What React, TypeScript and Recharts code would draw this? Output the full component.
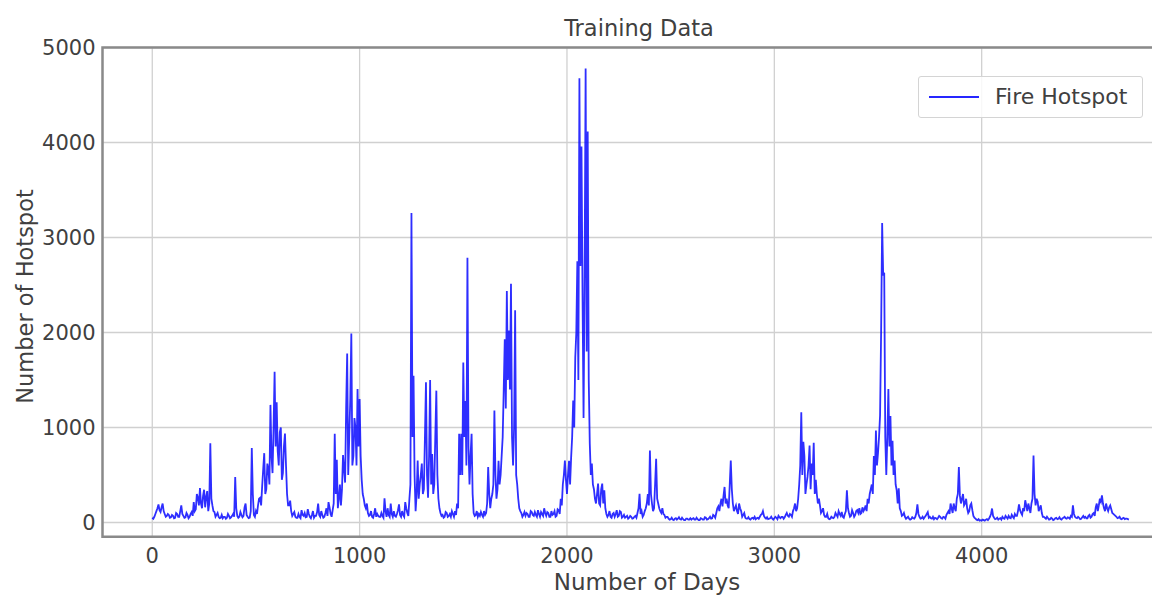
import React from 'react';
import { LineChart, Line, XAxis, YAxis, CartesianGrid, ReferenceArea, Legend } from 'recharts';

// ---- data ----
// hotspots: values at days 0, 10, 20, ...
const DAY_STEP = 10;
const hotspots: number[] = [
  // 0
  50, 60, 120, 190, 110, 200, 90, 70, 80, 55,
  // 100
  70, 50, 90, 60, 180, 70, 55, 80, 60, 110,
  // 200
  215, 140, 260, 363, 150, 345, 270, 120, 835, 180,
  // 300
  110, 80, 60, 50, 45, 60, 50, 70, 55, 90,
  // 400
  478, 70, 60, 80, 70, 200, 60, 50, 783, 80,
  // 500
  120, 180, 260, 380, 730, 350, 560, 1238, 520, 1587,
  // 600
  1265, 600, 1000, 520, 937, 300, 180, 120, 90, 60,
  // 700
  50, 60, 130, 70, 55, 140, 60, 80, 50, 70,
  // 800
  200, 60, 80, 60, 150, 215, 90, 130, 933, 660,
  // 900
  250, 180, 710, 420, 1780, 900, 1990, 700, 1000, 1405,
  // 1000
  1300, 450, 250, 150, 100, 80, 60, 90, 60, 70,
  // 1100
  60, 70, 255, 60, 80, 200, 60, 70, 90, 190,
  // 1200
  60, 80, 215, 100, 245, 3258, 1545, 120, 653, 400,
  // 1300
  620, 350, 1475, 260, 1500, 720, 400, 1388, 250, 100,
  // 1400
  80, 60, 100, 70, 60, 90, 120, 200, 933, 933,
  // 1500
  1685, 1280, 2786, 400, 933, 100, 80, 60, 70, 80,
  // 1600
  120, 100, 583, 150, 300, 1178, 250, 650, 500, 900,
  // 1700
  1930, 2437, 2020, 2514, 600, 2234, 400, 150, 100, 80,
  // 1800
  70, 90, 60, 110, 70, 80, 130, 60, 90, 150,
  // 1900
  70, 100, 60, 80, 120, 70, 130, 250, 400, 653,
  // 2000
  300, 650, 680, 1283, 1737, 2751, 4675, 3958, 1100, 4780,
  // 2100
  4115, 830, 620, 350, 200, 410, 180, 410, 340, 90,
  // 2200
  80, 60, 90, 60, 130, 70, 110, 60, 50, 70,
  // 2300
  50, 60, 45, 70, 100, 303, 120, 80, 150, 300,
  // 2400
  758, 200, 150, 671, 200, 120, 150, 80, 60, 40,
  // 2500
  35, 30, 40, 30, 55, 30, 35, 25, 40, 30,
  // 2600
  30, 45, 30, 35, 25, 40, 30, 50, 35, 60,
  // 2700
  45, 70, 100, 170, 200, 170, 374, 250, 150, 653,
  // 2800
  200, 150, 120, 200, 120, 80, 50, 40, 35, 45,
  // 2900
  40, 35, 50, 60, 90, 70, 40, 35, 45, 40,
  // 3000
  45, 50, 70, 45, 60, 55, 100, 60, 80, 120,
  // 3100
  200, 150, 400, 1160, 850, 300, 480, 810, 620, 840,
  // 3200
  450, 200, 180, 120, 80, 60, 45, 40, 50, 60,
  // 3300
  80, 120, 70, 60, 90, 340, 100, 70, 100, 80,
  // 3400
  130, 150, 100, 120, 180, 250, 300, 400, 700, 968,
  // 3500
  730, 1130, 3153, 2630, 500, 1405, 1120, 860, 653, 340,
  // 3600
  360, 120, 80, 60, 50, 40, 35, 45, 60, 192,
  // 3700
  60, 45, 40, 70, 110, 60, 40, 35, 45, 50,
  // 3800
  60, 40, 55, 80, 120, 200, 100, 150, 250, 583,
  // 3900
  200, 300, 200, 150, 120, 200, 70, 40, 25, 20,
  // 4000
  20, 25, 30, 25, 60, 147, 50, 40, 30, 45,
  // 4100
  60, 40, 55, 70, 45, 60, 90, 70, 190, 100,
  // 4200
  150, 234, 120, 150, 200, 706, 180, 220, 150, 100,
  // 4300
  60, 40, 45, 35, 40, 30, 50, 40, 35, 45,
  // 4400
  60, 40, 50, 70, 181, 60, 45, 50, 40, 70,
  // 4500
  60, 45, 80, 60, 100, 160, 120, 250, 286, 150,
  // 4600
  200, 120, 180, 100, 80, 60, 50, 40, 45, 35,
  // 4700
  40, 30,
];

// hotspotsMid: values at days 5, 15, 25, ... (the day-to-day jitter between the samples above)
const hotspotsMid: number[] = [
  // 5
  40, 90, 150, 130, 160, 120, 60, 90, 50, 80,
  // 105
  45, 100, 60, 120, 90, 50, 100, 45, 90, 70,
  // 205
  120, 300, 180, 200, 280, 160, 330, 200, 250, 120,
  // 305
  60, 100, 45, 80, 60, 40, 90, 45, 70, 60,
  // 405
  150, 50, 110, 55, 160, 80, 45, 120, 300, 60,
  // 505
  90, 250, 180, 560, 300, 620, 400, 700, 1000, 800,
  // 605
  750, 950, 450, 800, 600, 180, 230, 70, 110, 50,
  // 705
  90, 45, 80, 100, 60, 90, 45, 120, 70, 110,
  // 805
  80, 120, 50, 100, 70, 160, 60, 200, 300, 150,
  // 905
  400, 350, 560, 1200, 500, 1300, 600, 1100, 600, 800,
  // 1005
  700, 300, 180, 200, 70, 120, 50, 150, 90, 60,
  // 1105
  100, 50, 120, 150, 60, 90, 120, 60, 130, 80,
  // 1205
  120, 60, 150, 70, 400, 900, 500, 300, 250, 500,
  // 1305
  300, 900, 500, 700, 400, 300, 900, 500, 150, 70,
  // 1405
  50, 110, 60, 90, 120, 60, 80, 150, 500, 500,
  // 1505
  900, 600, 800, 700, 300, 70, 120, 90, 110, 60,
  // 1605
  80, 200, 300, 250, 400, 500, 350, 400, 700, 1400,
  // 1705
  1200, 1500, 1400, 900, 1000, 500, 250, 120, 60, 110,
  // 1805
  100, 60, 120, 80, 110, 60, 90, 110, 70, 100,
  // 1905
  110, 60, 120, 90, 60, 140, 90, 180, 500, 450,
  // 2005
  500, 400, 900, 1000, 2000, 1500, 2700, 2400, 2600, 1800,
  // 2105
  1500, 500, 400, 250, 300, 200, 350, 200, 150, 60,
  // 2205
  120, 50, 100, 90, 60, 120, 50, 80, 60, 40,
  // 2305
  70, 40, 60, 50, 150, 90, 60, 120, 200, 180,
  // 2405
  300, 120, 400, 250, 150, 100, 90, 50, 60, 30,
  // 2505
  50, 25, 45, 40, 35, 50, 25, 40, 30, 45,
  // 2605
  40, 30, 50, 25, 45, 30, 55, 30, 45, 40,
  // 2705
  80, 50, 150, 120, 250, 280, 200, 180, 400, 350,
  // 2805
  120, 180, 90, 150, 60, 100, 40, 55, 30, 50,
  // 2905
  60, 45, 40, 80, 120, 50, 55, 40, 60, 30,
  // 3005
  60, 35, 55, 60, 40, 80, 70, 90, 60, 150,
  // 3105
  120, 250, 600, 500, 700, 400, 600, 350, 500, 300,
  // 3205
  300, 250, 100, 150, 60, 90, 35, 60, 45, 100,
  // 3305
  60, 90, 110, 50, 120, 150, 60, 130, 60, 120,
  // 3405
  100, 90, 160, 140, 120, 200, 350, 300, 500, 600,
  // 3505
  900, 2000, 2600, 900, 900, 800, 600, 500, 400, 200,
  // 3605
  150, 70, 100, 40, 60, 30, 55, 40, 100, 90,
  // 3705
  40, 60, 55, 90, 50, 45, 60, 50, 35, 70,
  // 3805
  45, 60, 40, 100, 90, 150, 200, 120, 300, 280,
  // 3905
  250, 180, 250, 100, 180, 130, 50, 30, 35, 25,
  // 4005
  30, 20, 35, 40, 90, 70, 35, 50, 40, 30,
  // 4105
  45, 70, 40, 50, 80, 45, 70, 120, 130, 80,
  // 4205
  120, 180, 200, 100, 250, 300, 250, 120, 180, 60,
  // 4305
  50, 60, 30, 50, 25, 45, 35, 55, 30, 50,
  // 4405
  45, 55, 40, 60, 90, 50, 60, 35, 55, 50,
  // 4505
  45, 70, 50, 90, 70, 200, 180, 220, 200, 120,
  // 4605
  150, 160, 140, 90, 70, 45, 60, 35, 50, 40,
  // 4705
  35,
];

const xTicks = [0, 1000, 2000, 3000, 4000];
const yTicks = [0, 1000, 2000, 3000, 4000, 5000];

const TITLE = 'Training Data';
const X_LABEL = 'Number of Days';
const Y_LABEL = 'Number of Hotspot';
const SERIES_NAME = 'Fire Hotspot';

const data: { day: number; hotspot: number }[] = [];
hotspots.forEach((v, i) => {
  data.push({ day: i * DAY_STEP, hotspot: v });
  if (i < hotspotsMid.length) data.push({ day: i * DAY_STEP + DAY_STEP / 2, hotspot: hotspotsMid[i] });
});

const FONT = '"DejaVu Sans", sans-serif';
const TEXT = '#404040';
const LINE = '#0000ff';

const X_DOMAIN: [number, number] = [-240, 4955];
const Y_DOMAIN: [number, number] = [-150, 5000];

const LegendBox = () => (
  <div
    style={{
      boxSizing: 'border-box',
      width: 225,
      height: 42,
      border: '1px solid #d4d4d4',
      borderRadius: 3,
      background: 'rgba(255,255,255,0.85)',
      display: 'flex',
      alignItems: 'center',
      fontFamily: FONT,
      fontSize: 22,
      color: TEXT,
    }}
  >
    <svg width={50} height={4} style={{ marginLeft: 10, marginRight: 16, display: 'block' }}>
      <line x1={0} x2={50} y1={2} y2={2} stroke={LINE} strokeWidth={2} strokeOpacity={0.85} />
    </svg>
    <span style={{ lineHeight: '22px' }}>{SERIES_NAME}</span>
  </div>
);

export default function App() {
  return (
    <div
      style={{
        position: 'absolute',
        left: 0,
        top: 0,
        width: 1152,
        height: 595,
        overflow: 'hidden',
        background: '#ffffff',
        fontFamily: FONT,
      }}
    >
      <LineChart
        width={1200}
        height={595}
        data={data}
        margin={{ top: 47.5, right: 20.3, bottom: 0, left: 0 }}
      >
        <CartesianGrid stroke="#d0d0d0" strokeWidth={1.3} />
        <XAxis
          dataKey="day"
          type="number"
          domain={X_DOMAIN}
          allowDataOverflow
          ticks={xTicks}
          interval={0}
          tickLine={false}
          axisLine={false}
          tickSize={0}
          tickMargin={11}
          height={58.25}
          tick={{ fontSize: 21, fill: TEXT, fontFamily: FONT }}
        />
        <YAxis
          type="number"
          domain={Y_DOMAIN}
          allowDataOverflow
          ticks={yTicks}
          interval={0}
          tickLine={false}
          axisLine={false}
          tickSize={0}
          tickMargin={7}
          width={102.5}
          tick={{ fontSize: 21, fill: TEXT, fontFamily: FONT }}
        />
        <ReferenceArea
          x1={X_DOMAIN[0]}
          x2={X_DOMAIN[1]}
          y1={Y_DOMAIN[0]}
          y2={Y_DOMAIN[1]}
          fill="none"
          fillOpacity={0}
          stroke="#8a8a8a"
          strokeWidth={2.5}
          ifOverflow="visible"
        />
        <Line
          type="linear"
          dataKey="hotspot"
          name={SERIES_NAME}
          stroke={LINE}
          strokeOpacity={0.82}
          strokeWidth={1.8}
          dot={false}
          activeDot={false}
          isAnimationActive={false}
        />
        <Legend
          layout="vertical"
          align="center"
          verticalAlign="middle"
          content={() => <LegendBox />}
          wrapperStyle={{ position: 'absolute', left: 918, top: 76, width: 225, height: 42 }}
        />
      </LineChart>
      <svg
        width={1152}
        height={595}
        style={{ position: 'absolute', left: 0, top: 0, pointerEvents: 'none' }}
      >
        <text x={639} y={36} textAnchor="middle" fontFamily={FONT} fontSize={22.5} fill={TEXT}>
          {TITLE}
        </text>
        <text x={647} y={590} textAnchor="middle" fontFamily={FONT} fontSize={23} fill={TEXT}>
          {X_LABEL}
        </text>
        <text
          x={33}
          y={296.5}
          textAnchor="middle"
          fontFamily={FONT}
          fontSize={22.5}
          fill={TEXT}
          transform="rotate(-90 33 296.5)"
        >
          {Y_LABEL}
        </text>
      </svg>
    </div>
  );
}
